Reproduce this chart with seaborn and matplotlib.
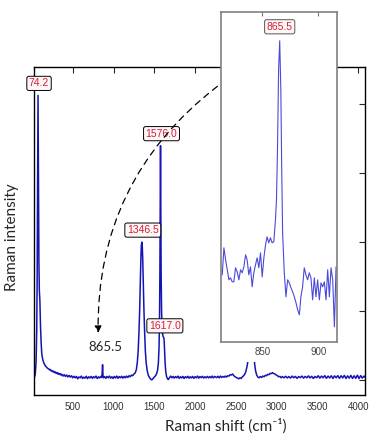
import numpy as np
import pandas as pd
import matplotlib.pyplot as plt
import seaborn as sns
from matplotlib.patches import Rectangle

sns.set_style('white')
plt.rcParams['font.family'] = ['Liberation Sans', 'DejaVu Sans']

# full spectrum (intensity in arbitrary units)
shift = [28, 40, 50, 58, 63, 67, 70, 72, 74.2, 76, 78, 81, 85, 90, 97, 104, 112, 120, 128, 136,
         145, 155, 165, 175, 185, 195, 205, 215, 225, 235, 245, 255, 265, 275, 285, 295, 305, 315,
         325, 335, 345, 355, 365, 380, 395, 410, 425, 440, 455, 470, 485, 500, 515, 530, 545, 560,
         575, 590, 605, 620, 635, 650, 665, 680, 695, 710, 725, 740, 755, 770, 785, 800, 815, 830,
         845, 855, 860, 863, 865.5, 868, 871, 876, 890, 905, 920, 935, 950, 965, 980, 995, 1010,
         1025, 1040, 1055, 1070, 1085, 1100, 1115, 1130, 1145, 1160, 1175, 1190, 1205, 1220, 1235,
         1250, 1265, 1280, 1292, 1302, 1312, 1320, 1328, 1335, 1341, 1346.5, 1352, 1358, 1365,
         1373, 1381, 1390, 1400, 1412, 1425, 1440, 1455, 1468, 1482, 1495, 1515, 1528,
         1540, 1550, 1558, 1564, 1568, 1572, 1574.5, 1576, 1577.5, 1580, 1584, 1589, 1595, 1602,
         1609, 1614, 1617, 1621, 1626, 1632, 1640, 1650, 1662, 1672, 1685, 1700, 1715, 1730, 1745,
         1760, 1775, 1790, 1805, 1820, 1835, 1850, 1865, 1880, 1895, 1910, 1925, 1940, 1955, 1970,
         1985, 2000, 2015, 2030, 2045, 2060, 2075, 2090, 2105, 2120, 2135, 2150, 2165, 2180, 2195,
         2210, 2225, 2240, 2265, 2280, 2295, 2310, 2325, 2340, 2355, 2370, 2385, 2400, 2415, 2430,
         2445, 2460, 2475, 2490, 2505, 2520, 2535, 2550, 2565, 2580, 2595, 2610, 2622, 2634, 2646,
         2658, 2670, 2685, 2700, 2712, 2722, 2732, 2742, 2755, 2770, 2785, 2800, 2815, 2830, 2845,
         2860, 2875, 2890, 2905, 2920, 2935, 2950, 2965, 2980, 2995, 3010, 3025, 3040, 3055, 3070,
         3090, 3110, 3130, 3150, 3170, 3190, 3210, 3230, 3250, 3270, 3290, 3310, 3330, 3350, 3370,
         3390, 3410, 3430, 3450, 3470, 3490, 3510, 3530, 3550, 3570, 3590, 3610, 3630, 3650, 3670,
         3690, 3710, 3730, 3750, 3770, 3790, 3810, 3830, 3850, 3870, 3890, 3910, 3930, 3950, 3970,
         3990, 4010, 4030, 4050, 4070, 4085]
intensity = [30, 80, 250, 700, 1400, 2400, 3300, 3900, 4130, 3700, 3000, 2300, 1700, 1300, 1150, 800, 550, 380, 320, 280,
             245, 225, 200, 190, 175, 165, 160, 145, 150, 130, 135, 118, 125, 105, 115, 95, 108, 85,
             98, 78, 90, 70, 82, 55, 75, 50, 70, 42, 65, 40, 60, 30, 52, 30, 50, 15,
             42, 30, 55, 20, 40, 25, 52, 18, 45, 28, 50, 22, 46, 30, 55, 20, 44, 28,
             50, 35, 90, 160, 220, 140, 60, 30, 48, 22, 50, 30, 55, 25, 45, 20, 50,
             28, 55, 22, 48, 30, 52, 25, 50, 30, 55, 35, 60, 45, 70, 60,
             85, 100, 150, 260, 420, 700, 1000, 1400, 1750, 1950, 2000, 1950, 1750, 1400,
             1000, 700, 420, 250, 140, 70, 35, 10, 0, 15, 35, 60, 90,
             140, 250, 480, 900, 1500, 2400, 3100, 3400, 3100, 2400, 1500, 1000, 760, 660,
             625, 615, 610, 560, 420, 250, 120, 50, 15, 5, 30, 55, 30, 50, 25,
             48, 30, 55, 22, 45, 28, 50, 20, 46, 30, 52, 24, 45, 28, 50,
             22, 46, 30, 55, 25, 48, 32, 52, 26, 45, 30, 50, 28, 48, 30,
             55, 28, 50, 32, 52, 30, 55, 35, 50, 38, 55, 40, 60, 55, 75,
             70, 85, 60, 45, 35, 25, 15, 30, 20, 45, 60, 85, 120, 180, 260,
             380, 520, 700, 650, 450, 320, 210, 130, 70, 40, 30, 48, 35, 55, 45,
             65, 60, 80, 75, 95, 90, 105, 90, 85, 70, 60, 45, 50, 30, 48,
             30, 52, 28, 48, 25, 55, 30, 50, 22, 48, 32, 55, 25, 50, 30,
             58, 28, 52, 20, 50, 30, 60, 25, 55, 30, 62, 22, 55, 28, 60,
             20, 58, 30, 62, 22, 60, 28, 65, 20, 58, 25, 65, 20, 60, 22,
             68, 18, 62, 25, 55, 35]

# zoom on the 865.5 band (inset)
inset_shift = [814.0, 815.5, 817.0, 818.5, 820.0, 821.4, 822.9, 824.4, 825.9, 827.4, 828.9, 830.4,
               831.9, 833.4, 834.9, 836.3, 837.8, 839.3, 840.8, 842.3, 843.8, 845.3, 846.8, 848.3,
               849.8, 851.3, 852.8, 854.2, 855.7, 857.2, 858.7, 860.2, 861.7, 862.6, 863.5, 864.5,
               865.5, 866.5, 867.3, 868.1, 869.6, 871.1, 872.6, 874.1, 875.6, 877.1, 878.6, 880.1,
               881.6, 883.1, 884.5, 886.0, 887.5, 889.0, 890.5, 892.0, 893.5, 895.0, 896.5, 898.0,
               899.5, 901.0, 902.5, 904.0, 905.5, 907.0, 908.5, 910.0, 911.5, 913.0, 914.5, 916.0]
inset_counts = [67, 94, 82, 72, 62, 64, 60, 60, 74, 70, 62, 72,
                69, 75, 87, 82, 67, 75, 55, 69, 77, 84, 74, 89,
                65, 84, 97, 105, 99, 104, 99, 100, 122, 142, 192, 272,
                301, 252, 172, 109, 69, 45, 62, 59, 54, 50, 45, 39,
                32, 27, 45, 55, 74, 67, 62, 69, 64, 42, 64, 45,
                62, 42, 59, 55, 60, 42, 72, 45, 74, 62, 15, 75]

main_peaks = [74.2, 1346.5, 1576.0, 1617.0]
inset_peak = 865.5

assert len(shift) == len(intensity)
assert len(inset_shift) == len(inset_counts)
df = pd.DataFrame({'shift': shift, 'intensity': intensity})
df_in = pd.DataFrame({'shift': inset_shift, 'counts': inset_counts})

fig = plt.figure(figsize=(3.78, 4.36), dpi=100)
ax = fig.add_axes([0.090, 0.094, 0.876, 0.752])
sns.lineplot(data=df, x='shift', y='intensity', ax=ax, color='#1414b4', lw=1.1,
             estimator=None, sort=False)
ax.set_xlim(25, 4085)
ax.set_ylim(-220, 4540)
ax.set_xticks(range(500, 4001, 500))
ax.set_yticks(range(0, 4001, 1000))
ax.set_yticklabels([])
ax.tick_params(direction='in', top=True, right=True, length=4, width=0.8,
               labelsize=7, labelcolor='#333333', pad=5)
for s in ax.spines.values():
    s.set_color('black')
    s.set_linewidth(1.0)
ax.set_xlabel('Raman shift (cm⁻¹)', fontsize=11, family=['Lato', 'DejaVu Sans'])
ax.set_ylabel('Raman intensity', fontsize=11, family=['Lato', 'DejaVu Sans'])
ax.xaxis.set_label_coords(0.58, -0.07)
ax.yaxis.set_label_coords(-0.045, 0.48)

box = dict(boxstyle='round,pad=0.2', fc='#fff6f6', ec='black', lw=0.7)
for p in main_peaks:
    h = intensity[shift.index(p)]
    ax.annotate(f'{p:.1f}', xy=(p, h), xytext=(1, 12), textcoords='offset pixels',
                ha='center', va='center', fontsize=7.5, color='#d0203a', bbox=box)

# dashed curved pointer to the inset
ax.annotate('', xy=(811, 681), xytext=(2273, 4261),
            arrowprops=dict(arrowstyle='-|>,head_length=0.5,head_width=0.25',
                            linestyle=(0, (5, 4)), connectionstyle='arc3,rad=0.25',
                            color='black', lw=0.9, shrinkA=0, shrinkB=0, mutation_scale=8))
ax.text(897, 478, f'{inset_peak}', ha='center', va='center', fontsize=9.5,
        family=['Lato', 'DejaVu Sans'])

# white strip under the pasted inset
fig.add_artist(Rectangle((0.585, 0.170), 0.307, 0.046, transform=fig.transFigure,
                         fc='white', ec='none', zorder=1))

axin = fig.add_axes([0.585, 0.216, 0.307, 0.757])
axin.set_zorder(2)
sns.lineplot(data=df_in, x='shift', y='counts', ax=axin,
             color='#4a4ad8', lw=0.8, estimator=None, sort=False)
axin.set_xlim(813, 917)
axin.set_ylim(0, 330)
axin.set_xticks([850, 900])
axin.set_yticks([])
axin.set_xlabel('')
axin.set_ylabel('')
axin.tick_params(direction='in', top=True, length=3, width=0.8, color='#777777',
                 labelsize=7, labelcolor='#444444', pad=4)
for s in axin.spines.values():
    s.set_color('#808080')
    s.set_linewidth(1.2)
h = inset_counts[inset_shift.index(inset_peak)]
axin.annotate(f'{inset_peak}', xy=(inset_peak, h), xytext=(0, 14), textcoords='offset pixels',
              ha='center', va='center', fontsize=7.5, color='#d0203a',
              bbox=dict(boxstyle='round,pad=0.2', fc='#fff6f6', ec='#555555', lw=0.7))

fig.savefig('out.png', dpi=100)
